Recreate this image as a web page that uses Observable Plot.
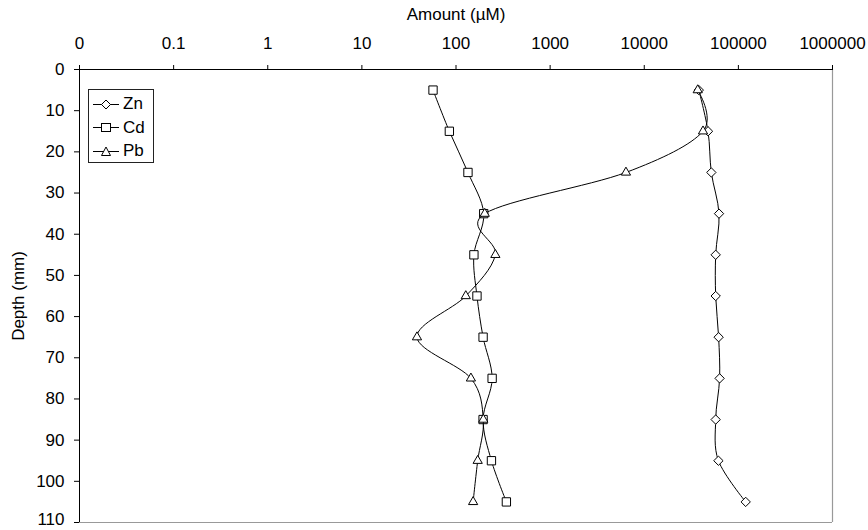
<!DOCTYPE html>
<html>
<head>
<meta charset="utf-8">
<script src="https://cdn.jsdelivr.net/npm/d3@7"></script>
<script src="https://cdn.jsdelivr.net/npm/@observablehq/plot@0.6"></script>
<style>
  body { margin: 0; background: #fff; }
  #wrap { position: relative; width: 868px; height: 530px; font-family: "Liberation Sans", Arial, sans-serif; }
  #legend { position: absolute; left: 88px; top: 89px; width: 64px; height: 72px; border: 1px solid #222; background: #fff; }
  #legend .row { position: absolute; left: 4px; height: 20px; display: flex; align-items: center; font-size: 17px; color: #000; }
  #legend svg { margin-right: 4px; }
</style>
</head>
<body>
<div id="wrap"></div>
<script>
// Data
const depth = [5, 15, 25, 35, 45, 55, 65, 75, 85, 95, 105];
const zn = [38000, 47600, 51600, 62300, 57400, 57400, 61700, 63200, 57400, 61400, 119600];
const cd = [57, 85, 134, 197, 155, 167, 194, 242, 194, 238, 343];
const pb = [37000, 42100, 6390, 202, 262, 127, 38.5, 144, 195, 170, 152];
const seriesNames = ["Zn", "Cd", "Pb"];
const seriesSymbols = ["diamond2", "square2", "triangle2"];
const seriesR = [4.2, 5.3, 4.4];
const xTickValues = [0.01, 0.1, 1, 10, 100, 1000, 10000, 100000, 1000000];
const xTickLabels = ["0", "0.1", "1", "10", "100", "1000", "10000", "100000", "1000000"];
const yTickValues = [0, 10, 20, 30, 40, 50, 60, 70, 80, 90, 100, 110];
const yLastTick = [110];

const seriesValues = [zn, cd, pb];
const data = seriesNames.flatMap((s, k) => depth.map((d, i) => ({series: s, depth: d, value: seriesValues[k][i]})));

const marks = [
  Plot.ruleX([1000000], {stroke: "#999", strokeWidth: 1.2}),
  Plot.ruleY([110], {stroke: "#999", strokeWidth: 1.2}),
  Plot.ruleY([0], {stroke: "#000"}),
  Plot.ruleX([0.01], {stroke: "#000"}),
  Plot.axisX({
    anchor: "top", ticks: xTickValues,
    tickFormat: d => xTickLabels[xTickValues.indexOf(d)],
    tickSize: 5, tickPadding: 16,
    label: "Amount (µM)", labelAnchor: "center", labelArrow: "none", labelOffset: 62
  }),
  Plot.axisY({
    ticks: yTickValues, tickSize: 5, tickPadding: 10,
    tickFormat: d => yLastTick.includes(d) ? "" : String(d),
    label: "Depth (mm)", labelAnchor: "center", labelArrow: "none", labelOffset: 68
  }),
  Plot.text(yLastTick, {y: d => d, text: d => String(d), frameAnchor: "left", textAnchor: "end", dx: -15, dy: -3, fontSize: 17})
];
seriesNames.forEach((s, k) => {
  const sub = data.filter(d => d.series === s);
  marks.push(Plot.line(sub, {x: "value", y: "depth", stroke: "#000", strokeWidth: 1, curve: "cardinal", tension: 0}));
  marks.push(Plot.dot(sub, {x: "value", y: "depth", symbol: seriesSymbols[k], r: seriesR[k], fill: "#fff", stroke: "#000", strokeWidth: 1}));
});

const chart = Plot.plot({
  width: 868, height: 530,
  marginTop: 69, marginLeft: 79, marginRight: 36, marginBottom: 8,
  style: {fontSize: "17px", fontFamily: "'Liberation Sans', Arial, sans-serif", color: "#000", background: "#fff"},
  x: {type: "log", domain: [0.01, 1000000]},
  y: {domain: [0, 110], reverse: true},
  marks
});
const wrap = document.getElementById("wrap");
wrap.appendChild(chart);

// Legend
const legend = document.createElement("div");
legend.id = "legend";
const symPaths = {
  Zn: '<path d="M13,5 L17.5,9.5 L13,14 L8.5,9.5 Z" fill="#fff" stroke="#000"/>',
  Cd: '<rect x="8.5" y="5.5" width="9" height="8" fill="#fff" stroke="#000"/>',
  Pb: '<path d="M13,5 L17.5,13.5 L8.5,13.5 Z" fill="#fff" stroke="#000"/>'
};
seriesNames.forEach((s, k) => {
  const row = document.createElement("div");
  row.className = "row";
  row.style.top = (4 + k * 23.5) + "px";
  row.innerHTML = `<svg width="26" height="19"><line x1="0" x2="26" y1="9.5" y2="9.5" stroke="#000"/>${symPaths[s]}</svg><span>${s}</span>`;
  legend.appendChild(row);
});
wrap.appendChild(legend);
</script>
</body>
</html>
